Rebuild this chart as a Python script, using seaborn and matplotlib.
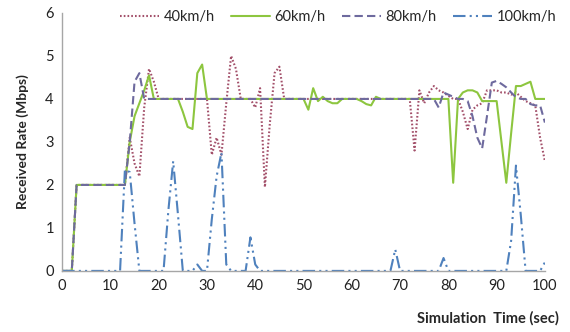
import pandas as pd
import matplotlib
matplotlib.use('Agg')
import matplotlib.pyplot as plt
import seaborn as sns

# simulation time (sec), one sample per second
tiempo = list(range(0, 101))

rate_40 = ([0, 0, 0] + [2.0] * 11 +
           [3.1, 2.5, 2.2, 3.8, 4.7, 4.4, 4.0] + [4.0] * 9 +
           [4.0, 2.7, 3.1, 2.7, 3.9, 5.0, 4.7, 4.0, 4.0, 4.0, 3.8, 4.25, 1.95, 3.4, 4.6, 4.75, 4.0] +
           [4.0] * 26 +
           [2.8, 4.2, 3.9, 4.15, 4.3, 4.2, 4.15, 4.07, 4.0, 4.0, 3.7, 3.3, 3.75, 3.85,
            3.9, 4.2, 4.2, 4.2, 4.15, 4.15, 4.1, 4.15, 4.05, 3.95, 3.9, 3.85, 3.1, 2.55])

rate_60 = ([0, 0, 0] + [2.0] * 11 +
           [3.0, 3.6, 3.9, 4.2, 4.55, 4.0, 4.0] + [4.0] * 4 +
           [3.7, 3.35, 3.3, 4.6, 4.8, 4.0] + [4.0] * 19 +
           [4.0, 3.75, 4.25, 3.95, 4.05, 3.95, 3.9, 3.9, 4.0, 4.0, 4.0, 4.0, 3.95, 3.88, 3.85, 4.05] +
           [4.0] * 15 +
           [2.05, 4.0, 4.15, 4.2, 4.2, 4.15, 3.95, 3.95, 3.95, 3.95, 3.0, 2.05, 3.2,
            4.3, 4.3, 4.35, 4.4, 4.0, 4.0, 4.0])

rate_80 = ([0, 0, 0] + [2.0] * 11 +
           [3.0, 4.4, 4.6, 4.0] + [4.0] * 60 +
           [3.8, 4.15, 4.1, 4.05, 4.0, 4.0, 3.95, 3.6, 3.1, 2.85, 3.6, 4.38, 4.42,
            4.35, 4.27, 4.15, 4.04, 4.0, 4.0, 3.88, 3.85, 3.85, 3.45])

rate_100 = ([0.0] * 13 + [2.35, 2.3, 1.1] + [0.0] * 6 + [1.4, 2.55, 1.3] + [0.0] * 3 +
            [0.15, 0.0, 0.0, 1.2, 2.2, 2.75, 0.15] + [0.0] * 4 + [0.78, 0.15] +
            [0.0] * 28 + [0.5] + [0.0] * 9 + [0.3] + [0.0] * 13 +
            [0.7, 2.45, 1.3] + [0.0] * 4 + [0.2])

velocidades = ['40km/h', '60km/h', '80km/h', '100km/h']
colores = ['#A3506A', '#8DC63F', '#6E6A9E', '#4F81BD']

df = pd.concat([
    pd.DataFrame({'tiempo': tiempo, 'rate': r, 'vel': v})
    for r, v in zip([rate_40, rate_60, rate_80, rate_100], velocidades)
], ignore_index=True)

sns.set_style('white')
plt.rcParams['font.family'] = ['Lato', 'DejaVu Sans']

fig = plt.figure(figsize=(5.7, 3.32), dpi=100)
ax = fig.add_axes([0.109, 0.184, 0.847, 0.777])

sns.lineplot(data=df, x='tiempo', y='rate', hue='vel', style='vel',
             palette=dict(zip(velocidades, colores)),
             dashes={'40km/h': (0.8, 1.0), '60km/h': '', '80km/h': (4, 2),
                     '100km/h': (6, 2, 1, 2, 1, 2)},
             linewidth=1.5, ax=ax, legend=True)

ax.set_xlim(0, 100)
ax.set_ylim(0, 6)
ax.set_xticks(range(0, 101, 10))
ax.set_yticks(range(0, 7))
ax.tick_params(length=0, labelsize=10.5, colors='#222222', pad=6)
for lado in ['top', 'right']:
    ax.spines[lado].set_visible(False)
for lado in ['left', 'bottom']:
    ax.spines[lado].set_color('#A6A6A6')
    ax.spines[lado].set_linewidth(1.0)

ax.set_xlabel('')
ax.set_ylabel('Received Rate (Mbps)', fontsize=10, fontweight='bold', labelpad=12)
fig.text(0.98, 0.042, 'Simulation  Time (sec)', ha='right', va='center',
         fontsize=10.5, fontweight='bold')

handles, labels = ax.get_legend_handles_labels()
ax.legend(handles, labels, loc='center', bbox_to_anchor=(0.593, 0.949),
          bbox_transform=fig.transFigure, ncol=4, frameon=False, fontsize=10.5,
          handlelength=2.7, handletextpad=0.3, columnspacing=1.1,
          borderpad=0.1)

fig.savefig('out.png', dpi=100)
